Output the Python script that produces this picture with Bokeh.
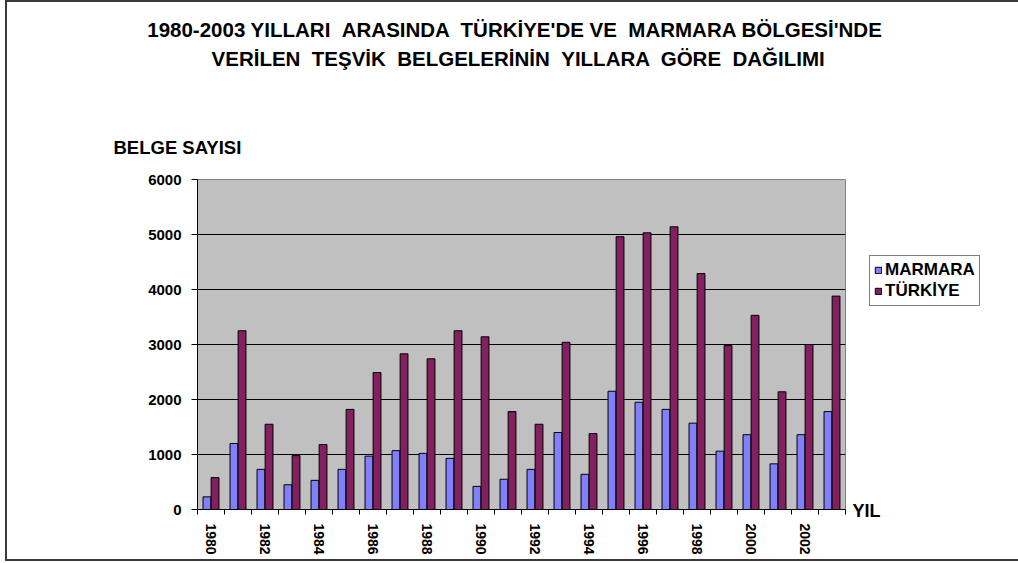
from bokeh.plotting import figure
from bokeh.models import (ColumnDataSource, Range1d, FixedTicker, Label, Legend,
                          LegendItem, InlineStyleSheet)
from bokeh.embed import file_html
from bokeh.resources import INLINE

years = [str(y) for y in range(1980, 2004)]
marmara = [230, 1200, 730, 450, 530, 730, 970, 1070, 1020, 930, 420, 550,
           730, 1400, 640, 2150, 1950, 1820, 1570, 1060, 1360, 830, 1360, 1780]
turkiye = [580, 3250, 1550, 980, 1180, 1820, 2490, 2830, 2740, 3250, 3140, 1780,
           1550, 3040, 1380, 4960, 5030, 5140, 4290, 2980, 3530, 2140, 3000, 3880]
series_names = ["MARMARA", "TÜRKİYE"]
y_ticks = [0, 1000, 2000, 3000, 4000, 5000, 6000]

NB = "\u00a0"
title1 = f"1980-2003 YILLARI {NB}ARASINDA {NB}TÜRKİYE'DE VE {NB}MARMARA BÖLGESİ'NDE"
title2 = (f"VERİLEN {NB}TEŞVİK {NB}BELGELERİNİN {NB}YILLARA {NB}GÖRE {NB}DAĞILIMI")
y_title = "BELGE SAYISI"
x_title = "YIL"

FONT = "Liberation Sans"
C_M = "#8080FF"
C_T = "#832060"

idx = list(range(len(years)))
src = ColumnDataSource(dict(
    xm=[i - 0.15 for i in idx],
    xt=[i + 0.15 for i in idx],
    m=marmara, t=turkiye))

border_css = InlineStyleSheet(css="""
:host::after {
  content: "";
  position: absolute;
  left: 5px; top: 0px; width: 1013px; height: 561px;
  border-left: 2px solid #3a3a3a;
  border-top: 2px solid #3a3a3a;
  border-bottom: 2px solid #3a3a3a;
  box-sizing: border-box;
  pointer-events: none;
  z-index: 10;
}
""")

p = figure(frame_width=648, frame_height=330,
           min_border_left=197, min_border_right=173,
           min_border_top=179, min_border_bottom=54,
           x_range=Range1d(-0.5, len(years) - 0.5), y_range=Range1d(0, 6000),
           output_backend="svg", toolbar_location=None, title=None,
           background_fill_color="#C0C0C0", border_fill_color="white",
           stylesheets=[border_css])

p.outline_line_color = "#808080"
p.outline_line_width = 1

rm = p.vbar(x="xm", top="m", width=0.29, bottom=0, source=src,
            fill_color=C_M, line_color="black", line_width=1)
rt = p.vbar(x="xt", top="t", width=0.29, bottom=0, source=src,
            fill_color=C_T, line_color="black", line_width=1)

# x axis
xa = p.xaxis[0]
xa.ticker = FixedTicker(ticks=idx, minor_ticks=[i - 0.5 for i in range(len(years) + 1)])
xa.major_label_overrides = {i: (years[i] if i % 2 == 0 else "") for i in idx}
xa.major_label_orientation = "vertical"
xa.major_tick_line_color = None
xa.major_tick_out = 5
xa.major_tick_in = 0
xa.minor_tick_line_color = "black"
xa.minor_tick_out = 5
xa.minor_tick_in = 0
xa.major_label_standoff = 9
xa.axis_line_color = "black"
xa.major_label_text_font = FONT
xa.major_label_text_font_style = "bold"
xa.major_label_text_font_size = "14px"
xa.major_label_text_color = "black"

# y axis
ya = p.yaxis[0]
ya.ticker = FixedTicker(ticks=y_ticks)
ya.major_tick_out = 6
ya.major_tick_in = 0
ya.minor_tick_line_color = None
ya.major_tick_line_color = "black"
ya.axis_line_color = "black"
ya.major_label_standoff = 10
ya.major_label_text_font = FONT
ya.major_label_text_font_style = "bold"
ya.major_label_text_font_size = "15px"
ya.major_label_text_color = "black"

p.xgrid.visible = False
p.ygrid.ticker = FixedTicker(ticks=y_ticks[1:-1])
p.ygrid.grid_line_color = "black"
p.ygrid.grid_line_width = 1

def lab(text, x, y, size, align="left"):
    p.add_layout(Label(text=text, x=x, y=y, x_units="canvas", y_units="canvas",
                       text_font=FONT, text_font_style="bold", text_font_size=size,
                       text_align=align, text_baseline="middle", text_color="black"),
                 "above")

lab(title1, 515, 29, "20.5px", "center")
lab(title2, 518, 58, "20.5px", "center")
lab(y_title, 113, 147, "18.5px")
lab(x_title, 852, 510, "18px")

legend = Legend(items=[LegendItem(label=series_names[0], renderers=[rm]),
                       LegendItem(label=series_names[1], renderers=[rt])],
                location=(24, 203), orientation="vertical",
                border_line_color="black", border_line_width=1,
                background_fill_color="white", background_fill_alpha=1,
                label_text_font=FONT, label_text_font_style="bold",
                label_text_font_size="17px", label_text_color="black",
                glyph_width=8, glyph_height=8, label_height=20, label_standoff=3,
                spacing=1, padding=4, margin=0)
p.add_layout(legend, "right")

open("out.html", "w").write(file_html(p, INLINE))
